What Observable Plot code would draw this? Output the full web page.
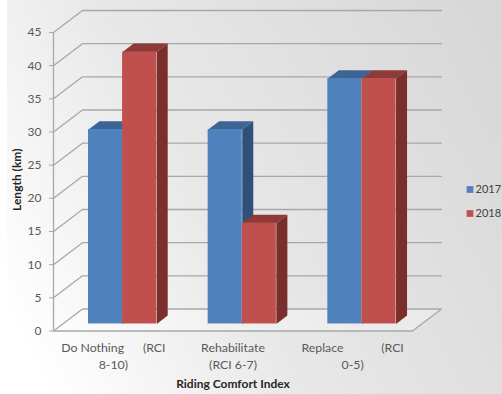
<!DOCTYPE html>
<html>
<head>
<meta charset="utf-8">
<script src="https://cdn.jsdelivr.net/npm/d3@7"></script>
<script src="https://cdn.jsdelivr.net/npm/@observablehq/plot@0.6"></script>
<style>
  html, body { margin: 0; padding: 0; background: #fff; }
  svg { display: block; }
</style>
</head>
<body>
<script>
// Road length by Riding Comfort Index class, 2017 and 2018
const categories = ["Do Nothing\u00a0\u00a0\u00a0\u00a0\u00a0\u00a0(RCI\n8-10)", "Rehabilitate\n(RCI 6-7)", "Replace\u00a0\u00a0\u00a0\u00a0\u00a0\u00a0\u00a0\u00a0\u00a0\u00a0\u00a0\u00a0(RCI\n0-5)"];
const years = ["2017", "2018"];
const values2017 = [29.3, 29.3, 37];
const values2018 = [41, 15.2, 37];
const yTicks = [0, 5, 10, 15, 20, 25, 30, 35, 40, 45];

const font = "Lato, 'Open Sans', sans-serif";
const palette = {
  "2017": {front: "#4f81bd", top: "#3c6595", side: "#2f5179"},
  "2018": {front: "#c0504d", top: "#8e3a38", side: "#7a2f2d"}
};

// Oblique projection: depth 0 is the front edge of the floor, depth 1 the back wall
const depthX = 0.242;
const depthY = 3.32;
const at = (x, y, depth) => ({x: x + depth * depthX, y: y + depth * depthY});

const barWidth = 0.285;
const barFront = 0.32;
const barBack = 0.7;

const polygon = (points, fill) => Plot.line(points, {x: "x", y: "y", fill, stroke: "none"});

// Wall gridlines run from the axis back to the wall and across to the right
const gridMarks = yTicks.slice(1).map((v) =>
  Plot.line([at(0, v, 0), at(0, v, 1), at(3, v, 1)], {x: "x", y: "y", stroke: "#a8a8a8", strokeWidth: 1.3})
);

const floorMark = Plot.line(
  [at(0, 0, 0), at(0, 0, 1), at(3, 0, 1), at(3, 0, 0), at(0, 0, 0)],
  {x: "x", y: "y", stroke: "#a8a8a8", strokeWidth: 1.3, fill: "#ffffff", fillOpacity: 0.3}
);

// Each bar is three faces; blue comes first so that red overlaps it
function barMarks(year, values) {
  const colors = palette[year];
  const shift = year === "2017" ? -barWidth : 0;
  return values.flatMap((v, i) => {
    const x0 = i + 0.5 + shift;
    const x1 = x0 + barWidth;
    const front = at(x0, 0, barFront);
    const frontEnd = at(x1, v, barFront);
    return [
      polygon([at(x0, v, barFront), at(x0, v, barBack), at(x1, v, barBack), at(x1, v, barFront)], colors.top),
      polygon([at(x1, 0, barFront), at(x1, 0, barBack), at(x1, v, barBack), at(x1, v, barFront)], colors.side),
      Plot.rect([{x1: front.x, x2: frontEnd.x, y1: front.y, y2: frontEnd.y}], {
        x1: "x1", x2: "x2", y1: "y1", y2: "y2", fill: colors.front
      })
    ];
  });
}

const labelRows = categories.map((label, i) => ({x: i + 0.5, label}));

const chart = Plot.plot({
  width: 502,
  height: 394,
  marginLeft: 53,
  marginRight: 90,
  marginTop: 32,
  marginBottom: 63.5,
  x: {domain: [0, 3], axis: null},
  y: {domain: [0, 45], axis: null},
  style: {
    fontFamily: font,
    background: "linear-gradient(62deg, #ffffff 6%, #e8e8e8 42%, #d6d6d6 100%) 7px 0 no-repeat"
  },
  marks: [
    floorMark,
    ...gridMarks,
    Plot.ruleX([0], {y1: 0, y2: 45, stroke: "#a8a8a8", strokeWidth: 1.3}),
    Plot.axisY(yTicks, {
      anchor: "left", tickSize: 4, tickPadding: 8, stroke: "#a8a8a8",
      color: "#595959", fontSize: 12, label: null
    }),
    ...barMarks("2017", values2017),
    ...barMarks("2018", values2018),
    Plot.text(labelRows, {
      x: "x", text: "label", frameAnchor: "bottom", dy: 8.5, lineAnchor: "top",
      fill: "#595959", fontSize: 12.3, lineHeight: 1.42
    }),
    Plot.text(["Riding Comfort Index"], {
      frameAnchor: "bottom", dy: 57, fontWeight: 700, fontSize: 12, fill: "#262626"
    }),
    Plot.text(["Length (km)"], {
      frameAnchor: "left", textAnchor: "middle", dx: -36, dy: -2, rotate: -90,
      fontWeight: 700, fontSize: 12, fill: "#262626"
    }),
    // Legend swatches and labels sit to the right of the wall
    ...years.flatMap((year, i) => [
      Plot.dot([year], {
        frameAnchor: "top-right", dx: 57.5, dy: 157 + i * 24, symbol: "square", r: 3.8,
        fill: palette[year].front, stroke: "none"
      }),
      Plot.text([year], {
        frameAnchor: "top-right", dx: 63, dy: 157 + i * 24, textAnchor: "start",
        fill: "#404040", fontSize: 11, lineAnchor: "middle"
      })
    ])
  ]
});

document.body.append(chart);
</script>
</body>
</html>
